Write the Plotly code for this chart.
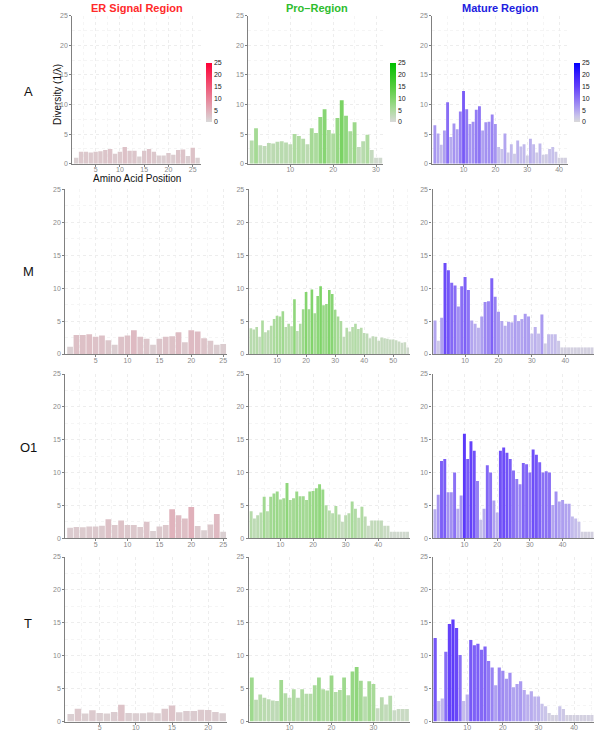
import plotly.graph_objects as go

# ---------------- data ----------------
row_labels = ["A", "M", "O1", "T"]
col_titles = ["ER Signal Region", "Pro\u2013Region", "Mature Region"]

A_er = [1.0, 2.0, 2.0, 1.9, 2.0, 2.1, 2.3, 2.5, 1.7, 2.0, 2.8, 2.2, 2.2, 1.2, 2.2, 2.5, 2.0, 1.4, 1.4, 1.8, 1.5, 2.3, 2.4, 1.3, 2.7, 1.0]
A_pro = [3.9, 6.0, 3.1, 3.0, 3.5, 3.4, 3.7, 3.8, 3.6, 3.3, 5.0, 4.7, 4.2, 3.3, 6.0, 5.2, 7.9, 9.2, 5.7, 5.1, 7.7, 10.7, 8.1, 5.5, 7.0, 2.8, 3.8, 4.9, 2.3, 1.0, 1.0]
A_mat = [6.5, 5.1, 3.2, 5.6, 10.4, 4.5, 6.8, 5.8, 8.8, 12.3, 9.2, 6.7, 7.1, 9.1, 9.7, 5.6, 7.0, 7.1, 8.3, 6.7, 2.8, 2.5, 5.1, 1.9, 3.3, 1.7, 3.9, 2.9, 3.3, 1.4, 4.2, 3.3, 1.9, 3.4, 1.5, 1.6, 2.5, 2.8, 2.0, 1.0, 1.0, 1.0]

M_er = [1.1, 2.9, 2.9, 3.0, 2.6, 2.8, 2.1, 1.4, 2.6, 2.8, 3.6, 2.6, 2.3, 1.4, 2.3, 2.6, 2.7, 3.3, 1.8, 3.6, 3.4, 2.4, 2.0, 1.4, 1.5]
M_pro = [3.9, 3.7, 4.1, 2.6, 5.1, 3.3, 3.6, 4.3, 5.3, 5.8, 5.7, 6.5, 4.1, 4.6, 4.2, 8.3, 3.5, 4.6, 6.8, 9.4, 6.8, 9.8, 6.2, 8.8, 10.3, 7.4, 7.6, 9.7, 9.1, 6.7, 5.7, 5.0, 2.6, 4.0, 3.4, 4.1, 4.6, 3.8, 4.0, 3.2, 3.1, 2.4, 2.7, 2.6, 2.0, 2.5, 2.4, 2.3, 2.2, 2.2, 2.1, 1.9, 1.7, 1.8, 1.0]
M_mat = [5.1, 2.0, 5.5, 13.8, 12.7, 10.8, 10.4, 7.2, 10.3, 11.7, 9.7, 5.1, 4.6, 4.0, 5.7, 7.9, 8.0, 11.5, 8.7, 6.4, 5.0, 4.3, 4.9, 4.8, 5.9, 5.0, 5.3, 6.1, 5.7, 3.1, 4.1, 3.1, 6.0, 1.6, 3.0, 3.0, 3.0, 2.0, 1.0, 1.0, 1.0, 1.0, 1.0, 1.0, 1.0, 1.0, 1.0, 1.0]

O1_er = [1.6, 1.7, 1.65, 1.8, 1.8, 1.9, 2.9, 2.0, 2.7, 2.0, 2.0, 1.7, 2.5, 1.1, 1.8, 2.0, 4.4, 3.5, 3.0, 4.75, 1.85, 1.2, 2.1, 3.7, 1.0]
O1_pro = [4.1, 3.0, 3.5, 3.9, 6.3, 4.1, 6.3, 6.8, 7.1, 5.9, 6.1, 8.4, 5.8, 6.1, 7.1, 6.4, 6.4, 5.8, 7.1, 7.2, 7.6, 8.2, 7.4, 5.0, 4.2, 3.8, 4.9, 3.6, 2.5, 3.5, 3.8, 5.6, 4.5, 3.1, 4.8, 3.3, 1.9, 2.7, 2.7, 2.7, 2.7, 1.9, 1.9, 1.0, 1.0, 1.0, 1.0, 1.0, 1.0]
O1_mat = [4.4, 6.6, 11.75, 12.05, 7.0, 7.0, 10.0, 4.5, 6.5, 15.9, 12.05, 14.75, 13.3, 8.7, 2.8, 4.5, 11.1, 10.0, 5.75, 3.9, 13.3, 13.8, 13.0, 12.05, 10.3, 9.0, 8.2, 11.45, 11.25, 10.0, 13.5, 12.7, 11.55, 10.0, 10.2, 10.0, 5.05, 7.1, 5.6, 5.8, 5.25, 5.25, 3.3, 3.0, 2.5, 1.0, 1.0, 1.0, 1.0]

T_er = [1.15, 1.95, 1.2, 1.7, 1.3, 1.2, 1.45, 2.55, 1.3, 1.25, 1.25, 1.35, 1.25, 1.95, 2.45, 1.4, 1.6, 1.6, 1.8, 1.75, 1.45, 1.25]
T_pro = [6.7, 3.3, 4.1, 3.6, 3.4, 3.2, 3.1, 6.3, 4.3, 3.6, 4.9, 3.6, 4.9, 4.2, 4.2, 5.5, 6.7, 4.9, 4.7, 7.0, 4.5, 4.8, 6.7, 4.0, 7.6, 8.3, 6.2, 3.8, 6.1, 5.7, 2.0, 3.7, 2.6, 3.9, 1.7, 1.9, 1.9, 1.9]
T_mat = [12.7, 3.1, 3.5, 10.6, 14.8, 15.5, 14.2, 10.1, 3.1, 4.1, 12.4, 11.6, 11.8, 10.9, 11.4, 9.2, 8.2, 5.5, 8.2, 7.7, 6.5, 7.4, 5.2, 5.7, 6.1, 4.8, 4.1, 4.6, 3.8, 3.8, 2.7, 2.3, 1.3, 1.0, 1.0, 2.3, 1.9, 1.0, 1.0, 1.0, 1.0, 1.0, 1.0, 1.0, 1.0]

panels = [
    [A_er, A_pro, A_mat],
    [M_er, M_pro, M_mat],
    [O1_er, O1_pro, O1_mat],
    [T_er, T_pro, T_mat],
]
x_dticks = [5, 10, 10]
colorbar_ticks = [0, 5, 10, 15, 20, 25]

# ---------------- styling ----------------
W, H = 600, 735
TITLE_COLORS = ["#ff2a2a", "#2ebd2e", "#2020e0"]
FONT = "Liberation Sans, Arial, sans-serif"
TICK_GREY = "#8a8a8a"

SCALES = [
    [[0.0, "#d9d9d9"], [1.0, "#ff0036"]],
    [[0.0, "#d9d9d9"], [0.2, "#aedba0"], [0.4, "#80d46a"], [0.6, "#55cc3c"], [1.0, "#00c000"]],
    [[0.0, "#d9d9d9"], [0.1, "#c9c3ea"], [0.2, "#b3a6ef"], [0.4, "#8b71f5"],
     [0.6, "#623ffa"], [0.8, "#3a1ffc"], [1.0, "#0000ff"]],
]

# pixel geometry of panels
cols_rowA = [(72.3, 201.0), (248.3, 383.3), (432.3, 567.7)]
cols_other = [(65.3, 227.0), (248.7, 409.5), (432.5, 594.0)]
rows_px = [(15.7, 163.7), (189.3, 354.0), (374.0, 538.2), (557.0, 721.5)]
cbar_x = [206.0, 389.5, 574.0]

fig = go.Figure()
layout = dict(
    template="none",
    width=W, height=H, margin=dict(l=0, r=0, t=0, b=0, autoexpand=False),
    paper_bgcolor="white", plot_bgcolor="white", showlegend=False,
    bargap=0.1, font=dict(family=FONT),
)

axis_common = dict(
    showline=True, linecolor="#808080", linewidth=1.2,
    ticks="outside", ticklen=2, tickcolor="#808080", tickwidth=1,
    tickfont=dict(size=7, color=TICK_GREY, family=FONT),
    showgrid=True, gridcolor="#ededed", gridwidth=1, griddash="dot",
    zeroline=False, fixedrange=True, automargin=False,
)

k = 0
for r in range(4):
    for c in range(3):
        k += 1
        vals = panels[r][c]
        n = len(vals)
        xs = list(range(1, n + 1))
        x0, x1 = (cols_rowA if r == 0 else cols_other)[c]
        y0, y1 = rows_px[r]
        xa = "xaxis" if k == 1 else "xaxis%d" % k
        ya = "yaxis" if k == 1 else "yaxis%d" % k
        xref = "x" if k == 1 else "x%d" % k
        yref = "y" if k == 1 else "y%d" % k
        lo_pad, hi_pad = (0.2, 0.7) if r == 0 else (0.25, 0.6)
        layout[xa] = dict(
            axis_common, domain=[x0 / W, x1 / W], anchor=yref,
            range=[lo_pad, n + hi_pad], dtick=x_dticks[c], tick0=0,
            ticklabelstandoff=-3,
            minor=dict(dtick=x_dticks[c] / 2, showgrid=True, gridcolor="#f5f5f5", griddash="dot"),
        )
        layout[ya] = dict(
            axis_common, domain=[1 - y1 / H, 1 - y0 / H], anchor=xref,
            range=[0, 25], dtick=5, tick0=0,
            minor=dict(dtick=2.5, showgrid=True, gridcolor="#f5f5f5", griddash="dot"),
        )
        marker = dict(color=vals, cmin=0, cmax=25, colorscale=SCALES[c], line=dict(width=0))
        if r == 0:
            marker["showscale"] = True
            marker["colorbar"] = dict(
                x=cbar_x[c] / W, xanchor="left", y=1 - 92.5 / H, yanchor="middle",
                lenmode="pixels", len=59, thicknessmode="pixels", thickness=6,
                xpad=0, ypad=0, outlinewidth=0, tickvals=colorbar_ticks,
                ticks="", tickfont=dict(size=7, color="#222222", family=FONT),
            )
        else:
            marker["showscale"] = False
        fig.add_trace(go.Bar(x=xs, y=vals, marker=marker, xaxis=xref, yaxis=yref,
                             width=0.9, hoverinfo="x+y"))

annotations = []
title_x = [137, 316.5, 500]
for c in range(3):
    annotations.append(dict(
        text="<b>%s</b>" % col_titles[c], x=title_x[c] / W, y=1 - 7.5 / H,
        xref="paper", yref="paper", showarrow=False, xanchor="center", yanchor="middle",
        font=dict(size=11, color=TITLE_COLORS[c], family=FONT)))
row_y = [92, 272, 447, 623]
for r in range(4):
    annotations.append(dict(
        text=row_labels[r], x=28 / W, y=1 - row_y[r] / H, xref="paper", yref="paper",
        showarrow=False, xanchor="center", yanchor="middle",
        font=dict(size=13, color="#111111", family=FONT)))
annotations.append(dict(
    text="Diversity (1/\u03bb)", x=57 / W, y=1 - 95 / H, xref="paper", yref="paper",
    showarrow=False, textangle=-90, xanchor="center", yanchor="middle",
    font=dict(size=10, color="#111111", family=FONT)))
annotations.append(dict(
    text="Amino Acid Position", x=137 / W, y=1 - 179 / H, xref="paper", yref="paper",
    showarrow=False, xanchor="center", yanchor="middle",
    font=dict(size=10, color="#111111", family=FONT)))
layout["annotations"] = annotations

fig.update_layout(**layout)
fig.write_html("out.html", config={"displayModeBar": False},
               post_script="document.body.style.margin='0px';document.body.style.padding='0px';")
